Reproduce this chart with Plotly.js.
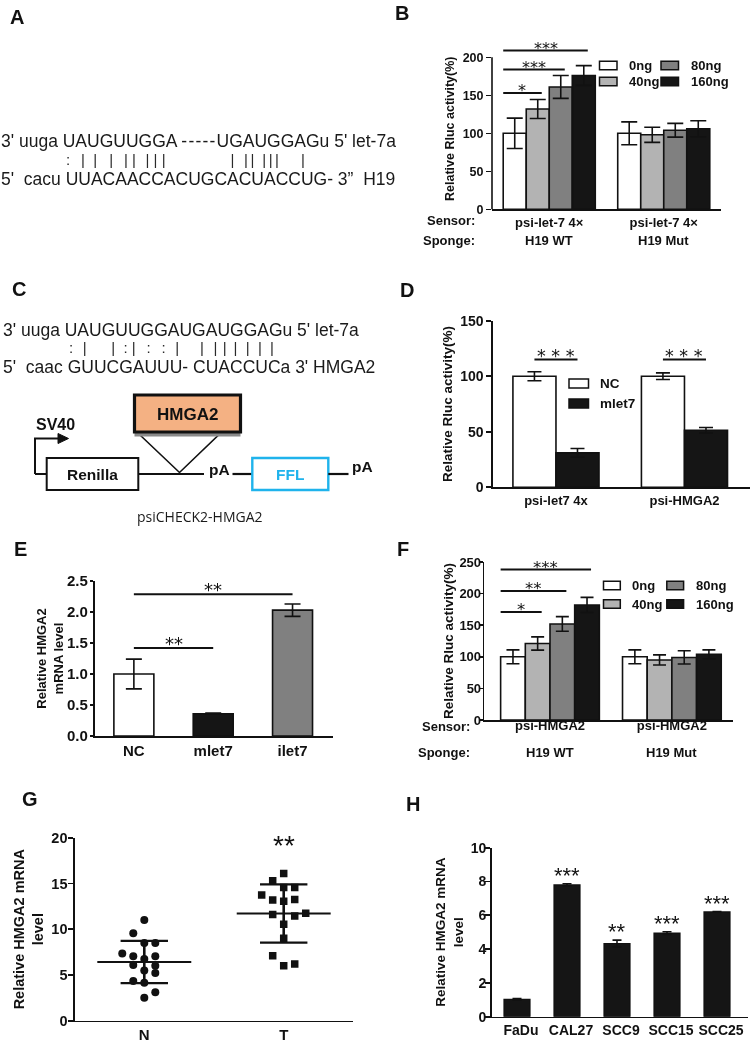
<!DOCTYPE html>
<html><head><meta charset="utf-8">
<script src="https://cdn.plot.ly/plotly-3.0.1.min.js"></script>
<style>html,body{margin:0;padding:0;background:#fff}#chart{width:750px;height:1043px}
#chart .main-svg{will-change:transform}</style>
</head><body><div id="chart"></div>
<script>
// ================= DATA =================
const doseLabels = ['0ng', '40ng', '80ng', '160ng'];
const bSponge = ['H19 WT', 'H19 Mut'];
const bSensor = ['psi-let-7 4×', 'psi-let-7 4×'];
const bMean0 = [100, 100], bMean40 = [132, 98], bMean80 = [161, 104], bMean160 = [176, 106];
const bErr0 = [20, 15], bErr40 = [12.5, 10], bErr80 = [15, 9], bErr160 = [13, 10.5];
const bSigY = [153, 184, 209];
const bSigStars = ['*', '***', '***'];
const dCats = ['psi-let7 4x', 'psi-HMGA2'];
const dSeries = ['NC', 'mlet7'];
const dNC = [100, 100], dNCErr = [4, 3];
const dMlet7 = [31, 51.3], dMlet7Err = [4, 2.5];
const dSigY = [115, 115];
const dSigStars = ['* * *', '* * *'];
const eCats = ['NC', 'mlet7', 'ilet7'];
const eVals = [1.0, 0.36, 2.03];
const eErr = [0.24, 0.01, 0.1];
const eSigY = [1.42, 2.285];
const eSigTo = [1, 2];
const eSigStars = ['**', '**'];
const fSponge = ['H19 WT', 'H19 Mut'];
const fSensor = ['psi-HMGA2', 'psi-HMGA2'];
const fMean0 = [100, 100], fMean40 = [121, 95], fMean80 = [152, 99], fMean160 = [182, 104];
const fErr0 = [11, 11], fErr40 = [10.5, 8], fErr80 = [11.5, 10.5], fErr160 = [12, 7];
const fSigY = [171, 204, 238];
const fSigStars = ['*', '**', '***'];
const gCats = ['N', 'T'];
const gN = [11.0, 9.55, 8.5, 8.5, 7.35, 7.05, 6.75, 7.05, 6.1, 6.0, 5.5, 5.2, 4.35, 4.15, 3.1, 2.5];
const gNcol = [0, -1, 0, 1, -2, -1, 0, 1, -1, 1, 0, 1, -1, 0, 1, 0];
const gT = [16.1, 15.3, 14.55, 14.55, 13.75, 13.2, 13.05, 13.25, 11.6, 11.45, 11.75, 10.55, 9.0, 7.1, 6.0, 6.2];
const gTcol = [0, -1, 0, 1, -2, -1, 0, 1, -1, 1, 2, 0, 0, -1, 0, 1];
const gStars = '**';
const gStarsY = 19.2;
const hCells = ['FaDu', 'CAL27', 'SCC9', 'SCC15', 'SCC25'];
const hVals = [1.03, 7.8, 4.33, 4.95, 6.2];
const hErr = [0.05, 0.07, 0.2, 0.08, 0.02];
const hStars = ['', '***', '**', '***', '***'];
const seqA1 = "3' uuga UAUGUUGGA -----UGAUGGAGu 5' let-7a";
const seqA3 = "5'\u00a0\u00a0cacu UUACAACCACUGCACUACCUG- 3\u201d\u00a0\u00a0H19";
const pairA = [':', '|', '|', '|', '|', '|', '|', '|', '|', '|', '|', '|', '|', '|', '|', '|'];
const seqC1 = "3' uuga UAUGUUGGAUGAUGGAGu 5' let-7a";
const seqC3 = "5'\u00a0\u00a0caac GUUCGAUUU- CUACCUCa 3' HMGA2";
const pairC = [':', '|', '|', ':', '|', ':', ':', '|', '|', '|', '|', '|', '|', '|', '|'];

// ================= LAYOUT HELPERS =================
const W = 750, H = 1043;
const PX = x => x / W, PY = y => 1 - y / H;
const dx = (a, b) => [a / W, b / W];
const dy = (top, bottom) => [1 - bottom / H, 1 - top / H];
const FONT = 'Liberation Sans, Arial, sans-serif';
const STAR = 'DejaVu Sans, sans-serif';
const SEQ = 'Open Sans, sans-serif';
const INK = '#111';
const doseColors = ['#ffffff', '#b3b3b3', '#808080', '#151515'];

const traces = [], shapes = [], annotations = [];
function txt(text, x, y, size, o) {
  annotations.push(Object.assign({text, x: PX(x), y: PY(y), xref: 'paper', yref: 'paper', showarrow: false,
    xanchor: 'center', yanchor: 'middle', font: {family: FONT, size, color: INK, weight: 'bold'}}, o || {}));
}
function dataTxt(text, xr, yr, x, y, size, yshift, family) {
  annotations.push({text, x, y, xref: xr, yref: yr, showarrow: false, xanchor: 'center', yanchor: 'middle',
    yshift: yshift || 0, font: {family: family || FONT, size, color: INK}});
}
function hline(xr, yr, x0, x1, y, w) {
  shapes.push({type: 'line', xref: xr, yref: yr, x0, x1, y0: y, y1: y, line: {color: INK, width: w || 2}});
}
function pline(x0, y0, x1, y1, w, c) {
  shapes.push({type: 'line', xref: 'paper', yref: 'paper', x0: PX(x0), y0: PY(y0), x1: PX(x1), y1: PY(y1), line: {color: c || INK, width: w}});
}
function prect(x0, y0, x1, y1, fill, lc, lw) {
  shapes.push({type: 'rect', xref: 'paper', yref: 'paper', x0: PX(x0), y0: PY(y0), x1: PX(x1), y1: PY(y1),
    fillcolor: fill, line: {color: lc, width: lw}});
}
function ppath(pts, fill, lc, lw) {
  const d = pts.map((p, i) => (i ? 'L' : 'M') + PX(p[0]) + ',' + PY(p[1])).join(' ') + ' Z';
  shapes.push({type: 'path', xref: 'paper', yref: 'paper', path: d, fillcolor: fill, line: {color: lc, width: lw}});
}
const starShift = (fs, px) => px - 0.23 * fs;

// sequence lines and base-pairing marks (marks laid out on measured x positions)
const seqStyle = {family: FONT, size: 17.5, color: '#1a1a1a'};
function seqLine(text, x, y) {
  txt(text.replace('-----', '<span style="letter-spacing:1.2px">-----</span>'), x, y, 17.5, {xanchor: 'left', font: seqStyle});
}
const mctx = document.createElement('canvas').getContext('2d');
function pairRow(chars, xs, size, y) {
  mctx.font = size + 'px "Liberation Sans"';
  const m = s => mctx.measureText(s).width;
  const NB = '\u00a0', HS = '\u200a', wH = m(HS);
  const left = xs[0] - m(chars[0]) / 2;
  let s = chars[0];
  for (let i = 1; i < chars.length; i++) {
    const target = xs[i] - m(chars[i]) / 2 - left;
    while (m(s + NB) <= target + 0.5) s += NB;
    if (wH > 0.3) while (m(s + HS) <= target + wH / 2) s += HS;
    s += chars[i];
  }
  txt(s, left - 2.5, y, size, {xanchor: 'left', font: {family: FONT, size, color: '#2a2a2a'}});
}

function doseBars(xa, ya, cats, means, errs, bw, cap) {
  means.forEach((m, i) => traces.push({type: 'bar', x: cats, y: m, xaxis: xa, yaxis: ya, width: bw,
    offset: -2 * bw + i * bw, name: doseLabels[i], showlegend: false, hoverinfo: 'skip',
    marker: {color: doseColors[i], line: {color: INK, width: 1.6}},
    error_y: {type: 'data', array: errs[i], visible: true, color: INK, thickness: 1.6, width: cap}}));
}
function doseLegend(x0, y0, colStep, rowStep, bw, bh, tx, fs) {
  doseLabels.forEach((lab, i) => {
    const c = Math.floor(i / 2), r = i % 2;
    const x = x0 + c * colStep, y = y0 + r * rowStep;
    prect(x, y - bh / 2, x + bw, y + bh / 2, doseColors[i], INK, 1.5);
    txt(lab, x + tx, y, fs, {xanchor: 'left'});
  });
}

// ================= PANEL B =================
const bBW = 0.201;
doseBars('x', 'y', bSponge, [bMean0, bMean40, bMean80, bMean160], [bErr0, bErr40, bErr80, bErr160], bBW, 8);
bSigY.forEach((y, k) => {
  const x0 = -2 * bBW, x1 = -2 * bBW + (k + 1.5) * bBW + 0.035;
  hline('x', 'y', x0, x1, y, 2);
  dataTxt(bSigStars[k], 'x', 'y', (x0 + x1) / 2, y, 16, starShift(16, 6), STAR);
});
doseLegend(599.5, 65.5, 61.5, 16, 17.5, 8.5, 27.5, 13);
pline(492, 209.3, 492, 57.3, 1.6);
txt('Sensor:', 477, 221, 13, {xanchor: 'right'});
txt('Sponge:', 477, 241, 13, {xanchor: 'right'});
bSponge.forEach((s, i) => annotations.push({text: s, x: i, xref: 'x', y: PY(241), yref: 'paper', showarrow: false,
  yanchor: 'middle', font: {family: FONT, size: 13, color: INK, weight: 'bold'}}));

// ================= PANEL D =================
const dBW = 0.335;
traces.push({type: 'bar', x: dCats, y: dNC, xaxis: 'x2', yaxis: 'y2', width: dBW, offset: -dBW, name: dSeries[0],
  showlegend: false, hoverinfo: 'skip', marker: {color: '#ffffff', line: {color: INK, width: 1.6}},
  error_y: {type: 'data', array: dNCErr, visible: true, color: INK, thickness: 1.6, width: 7}});
traces.push({type: 'bar', x: dCats, y: dMlet7, xaxis: 'x2', yaxis: 'y2', width: dBW, offset: 0, name: dSeries[1],
  showlegend: false, hoverinfo: 'skip', marker: {color: '#151515', line: {color: INK, width: 1.6}},
  error_y: {type: 'data', array: dMlet7Err, visible: true, color: INK, thickness: 1.6, width: 7}});
dSigY.forEach((y, g) => {
  const x0 = g - dBW / 2, x1 = g + dBW / 2;
  hline('x2', 'y2', x0, x1, y, 2);
  dataTxt(dSigStars[g], 'x2', 'y2', g, y, 17.5, starShift(17.5, 8), STAR);
});
['#ffffff', '#151515'].forEach((c, i) => {
  const y = 383.5 + i * 20;
  prect(569, y - 4.5, 588.5, y + 4.5, c, INK, 1.5);
  txt(dSeries[i], 598, y, 13.5, {xanchor: 'left'});
});

// ================= PANEL E =================
traces.push({type: 'bar', x: eCats, y: eVals, xaxis: 'x3', yaxis: 'y3', width: 0.504, hoverinfo: 'skip', showlegend: false,
  marker: {color: ['#ffffff', '#151515', '#808080'], line: {color: INK, width: 1.6}},
  error_y: {type: 'data', array: eErr, visible: true, color: INK, thickness: 1.6, width: 8}});
eSigY.forEach((y, k) => {
  hline('x3', 'y3', 0, eSigTo[k], y, 2);
  dataTxt(eSigStars[k], 'x3', 'y3', eSigTo[k] / 2, y, 18, starShift(18, 8.5), STAR);
});

// ================= PANEL F =================
const fBW = 0.2025;
doseBars('x4', 'y4', fSponge, [fMean0, fMean40, fMean80, fMean160], [fErr0, fErr40, fErr80, fErr160], fBW, 6.5);
fSigY.forEach((y, k) => {
  const x0 = -2 * fBW, x1 = -2 * fBW + (k + 1.5) * fBW + 0.033;
  hline('x4', 'y4', x0, x1, y, 2);
  dataTxt(fSigStars[k], 'x4', 'y4', (x0 + x1) / 2, y, 16.5, starShift(16.5, 6), STAR);
});
doseLegend(603.5, 585.5, 63.3, 18.5, 16.8, 8.5, 26.7, 13);
txt('Sensor:', 472, 726, 13, {xanchor: 'right'});
txt('Sponge:', 472, 752.5, 13, {xanchor: 'right'});
fSponge.forEach((s, i) => annotations.push({text: s, x: i, xref: 'x4', y: PY(752.5), yref: 'paper', showarrow: false,
  yanchor: 'middle', font: {family: FONT, size: 13, color: INK, weight: 'bold'}}));

// ================= PANEL G =================
const colStep = 0.079;
const meanSd = a => { const m = a.reduce((s, v) => s + v, 0) / a.length;
  return [m, Math.sqrt(a.reduce((s, v) => s + (v - m) * (v - m), 0) / (a.length - 1))]; };
[[gN, gNcol, 'circle', 8], [gT, gTcol, 'square', 7.5]].forEach(([vals, cols, sym, sz], c) => {
  traces.push({type: 'scatter', mode: 'markers', x: cols.map(k => c + k * colStep), y: vals, xaxis: 'x5', yaxis: 'y5',
    hoverinfo: 'skip', showlegend: false, marker: {symbol: sym, size: sz, color: INK}});
  const [m, sd] = meanSd(vals);
  const ln = (xs, ys, w) => traces.push({type: 'scatter', mode: 'lines', x: xs, y: ys, xaxis: 'x5', yaxis: 'y5',
    hoverinfo: 'skip', showlegend: false, line: {color: INK, width: w}});
  ln([c - 0.337, c + 0.337], [m, m], 2);
  ln([c - 0.17, c + 0.17], [m + sd, m + sd], 2.2);
  ln([c - 0.17, c + 0.17], [m - sd, m - sd], 2.2);
  ln([c, c], [m - sd, m + sd], 2.6);
});
dataTxt(gStars, 'x5', 'y5', 1, gStarsY, 28, 0);

// ================= PANEL H =================
traces.push({type: 'bar', x: hCells, y: hVals, xaxis: 'x6', yaxis: 'y6', width: 0.52, hoverinfo: 'skip', showlegend: false,
  marker: {color: '#151515', line: {color: INK, width: 1.2}},
  error_y: {type: 'data', array: hErr, visible: true, color: INK, thickness: 1.6, width: 4.5}});
hStars.forEach((s, i) => { if (s) dataTxt(s, 'x6', 'y6', i, hVals[i] + hErr[i], 22, 13 - 0.22 * 22); });

// ================= PANEL A & C =================
seqLine(seqA1, -1.5, 141);
pairRow(pairA, [69, 84, 96.7, 112, 126.3, 134.7, 148, 156, 164.5, 233.3, 246.7, 253, 265, 272, 278.3, 304], 15, 160);
seqLine(seqA3, -1.5, 178.5);
seqLine(seqC1, 0.5, 329.5);
pairRow(pairC, [72, 85.5, 114, 126.7, 135.3, 149, 164.2, 178.7, 203.3, 215.8, 226.2, 236.7, 248.8, 261.2, 273.3], 15, 348);
seqLine(seqC3, 0.5, 366.5);

ppath([[140, 435], [179.5, 472.5], [218.5, 435]], '#ffffff', INK, 1.6);
prect(134.5, 432, 240.5, 436.5, '#8a8a8a', '#8a8a8a', 0);
prect(134.5, 395, 240.5, 432, '#f4b183', INK, 3.2);
txt('HMGA2', 187.5, 414, 17);
pline(35, 474, 35, 438.5, 2);
pline(35, 474, 47, 474, 2);
pline(34, 438.5, 60, 438.5, 2);
ppath([[58, 433.5], [68.5, 438.5], [58, 443.5]], INK, INK, 1);
txt('SV40', 55, 425, 16);
prect(46.7, 458, 138.3, 490, '#ffffff', INK, 2);
txt('Renilla', 92.5, 474, 15.5);
pline(138.3, 474, 204, 474, 1.8);
txt('pA', 219, 469.5, 15.5);
pline(232.5, 474, 252.3, 474, 2.2);
prect(252.3, 458, 328.3, 490, '#ffffff', '#1fb3ec', 2.4);
txt('FFL', 290.3, 474, 15.5, {font: {family: FONT, size: 15.5, color: '#1fb3ec', weight: 'bold'}});
pline(328.3, 474, 348.5, 474, 2.2);
txt('pA', 362.5, 466.5, 15.5);
txt('psiCHECK2-HMGA2', 199.5, 516.5, 14, {font: {family: SEQ, size: 14, color: '#1a1a1a'}});

[['A', 17, 17], ['B', 402.5, 13], ['C', 18.5, 289.5], ['D', 407, 290], ['E', 20, 548.5], ['F', 403, 548.5], ['G', 29.5, 799], ['H', 412.5, 804]]
  .forEach(([l, x, y]) => txt(l, x, y, 20));

// ================= AXES =================
const xBase = (dom, anchor, fs, extra) => Object.assign({domain: dom, anchor, showgrid: false, zeroline: false, showline: true,
  linecolor: INK, linewidth: 1.6, ticks: '', fixedrange: true,
  tickfont: {family: FONT, size: fs, color: INK, weight: 'bold'}}, extra);
const yBase = (dom, anchor, range, dtick, fs, title, tfs, standoff, extra) => Object.assign({domain: dom, anchor, range,
  tickmode: 'linear', tick0: 0, dtick, showgrid: false, zeroline: false, showline: true, linecolor: INK, linewidth: 1.6,
  ticks: 'outside', ticklen: 5, tickwidth: 1.6, tickcolor: INK, fixedrange: true,
  tickfont: {family: FONT, size: fs, color: INK, weight: 'bold'},
  title: {text: title, standoff, font: {family: FONT, size: tfs, color: INK, weight: 'bold'}}}, extra);

const layout = {
  width: W, height: H, margin: {l: 0, r: 0, t: 0, b: 0}, paper_bgcolor: '#fff', plot_bgcolor: 'rgba(0,0,0,0)',
  showlegend: false, barmode: 'group', font: {family: FONT, color: INK},
  xaxis: xBase(dx(492, 721), 'y', 13, {type: 'category', range: [-0.5, 1.5], tickmode: 'array', tickvals: bSponge, ticktext: bSensor}),
  yaxis: yBase(dy(209.3 - 212 * 0.76, 209.3), 'x', [0, 212], 50, 12.5, 'Relative Rluc activity(%)', 12.5, 5,
    {showline: false, tickmode: 'array', tickvals: [0, 50, 100, 150, 200]}),
  xaxis2: xBase(dx(493, 750), 'y2', 13, {type: 'category', range: [-0.49, 1.51]}),
  yaxis2: yBase(dy(320.7, 487.3), 'x2', [0, 150], 50, 14, 'Relative Rluc activity(%)', 13.5, 4),
  xaxis3: xBase(dx(95, 333), 'y3', 15, {type: 'category', range: [-0.49, 2.51]}),
  yaxis3: yBase(dy(581, 736), 'x3', [0, 2.5], 0.5, 15, 'Relative HMGA2<br>mRNA level', 13, 0, {tickformat: '.1f', ticklen: 3.5, ticklabelstandoff: -1}),
  xaxis4: xBase(dx(484.3, 732.7), 'y4', 13, {type: 'category', range: [-0.539, 1.499], tickmode: 'array', tickvals: fSponge, ticktext: fSensor, ticklabelstandoff: -7}),
  yaxis4: yBase(dy(562, 720), 'x4', [0, 250], 50, 13, 'Relative Rluc activity(%)', 13.5, 2, {ticklen: 4, ticklabelstandoff: -5}),
  xaxis5: xBase(dx(75, 353), 'y5', 15, {range: [-0.497, 1.497], tickmode: 'array', tickvals: [0, 1], ticktext: gCats}),
  yaxis5: yBase(dy(837.7, 1020.7), 'x5', [0, 20], 5, 14.5, 'Relative HMGA2 mRNA<br>level', 14.5, 4, {ticklabelstandoff: -2}),
  xaxis6: xBase(dx(491.7, 748), 'y6', 14, {type: 'category', range: [-0.506, 4.62], ticklabelshift: 4}),
  yaxis6: yBase(dy(847.7, 1016.7), 'x6', [0, 10], 2, 14, 'Relative HMGA2 mRNA<br>level', 13.5, 4, {ticklabelstandoff: -4}),
  shapes, annotations
};
Plotly.newPlot('chart', traces, layout, {displayModeBar: false, staticPlot: true});
</script></body></html>
